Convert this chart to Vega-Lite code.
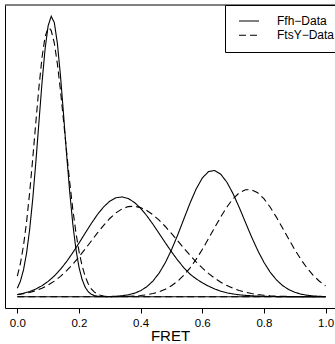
{
  "$schema": "https://vega.github.io/schema/vega-lite/v6.json",
  "width": 330,
  "height": 303,
  "autosize": {"type": "none"},
  "padding": {"left": 5, "top": 5, "right": 0, "bottom": 36},
  "background": "white",
  "config": {"view": {"stroke": null}, "font": "Liberation Sans"},
  "data": {"values": [
    {"c":"S1","s":"Ffh\u2212Data","x":0.00,"y":0.304},{"c":"S1","s":"Ffh\u2212Data","x":0.01,"y":0.555},{"c":"S1","s":"Ffh\u2212Data","x":0.02,"y":0.956},{"c":"S1","s":"Ffh\u2212Data","x":0.03,"y":1.557},{"c":"S1","s":"Ffh\u2212Data","x":0.04,"y":2.396},{"c":"S1","s":"Ffh\u2212Data","x":0.05,"y":3.483},{"c":"S1","s":"Ffh\u2212Data","x":0.06,"y":4.785},{"c":"S1","s":"Ffh\u2212Data","x":0.07,"y":6.210},{"c":"S1","s":"Ffh\u2212Data","x":0.08,"y":7.615},{"c":"S1","s":"Ffh\u2212Data","x":0.09,"y":8.825},{"c":"S1","s":"Ffh\u2212Data","x":0.10,"y":9.663},{"c":"S1","s":"Ffh\u2212Data","x":0.11,"y":9.997},{"c":"S1","s":"Ffh\u2212Data","x":0.12,"y":9.773},{"c":"S1","s":"Ffh\u2212Data","x":0.13,"y":9.027},{"c":"S1","s":"Ffh\u2212Data","x":0.14,"y":7.879},{"c":"S1","s":"Ffh\u2212Data","x":0.15,"y":6.498},{"c":"S1","s":"Ffh\u2212Data","x":0.16,"y":5.063},{"c":"S1","s":"Ffh\u2212Data","x":0.17,"y":3.728},{"c":"S1","s":"Ffh\u2212Data","x":0.18,"y":2.594},{"c":"S1","s":"Ffh\u2212Data","x":0.19,"y":1.705},{"c":"S1","s":"Ffh\u2212Data","x":0.20,"y":1.059},{"c":"S1","s":"Ffh\u2212Data","x":0.21,"y":0.622},{"c":"S1","s":"Ffh\u2212Data","x":0.22,"y":0.345},{"c":"S1","s":"Ffh\u2212Data","x":0.23,"y":0.181},{"c":"S1","s":"Ffh\u2212Data","x":0.24,"y":0.089},{"c":"S1","s":"Ffh\u2212Data","x":0.25,"y":0.042},{"c":"S1","s":"Ffh\u2212Data","x":0.26,"y":0.018},{"c":"S1","s":"Ffh\u2212Data","x":0.27,"y":0.008},{"c":"S1","s":"Ffh\u2212Data","x":0.28,"y":0.003},{"c":"S1","s":"Ffh\u2212Data","x":0.29,"y":0.001},{"c":"S1","s":"Ffh\u2212Data","x":0.30,"y":0},{"c":"S1","s":"Ffh\u2212Data","x":0.40,"y":0},{"c":"S1","s":"Ffh\u2212Data","x":0.60,"y":0},{"c":"S1","s":"Ffh\u2212Data","x":0.80,"y":0},{"c":"S1","s":"Ffh\u2212Data","x":1.00,"y":0},
    {"c":"D1","s":"FtsY\u2212Data","x":0.00,"y":0.735},{"c":"D1","s":"FtsY\u2212Data","x":0.01,"y":1.187},{"c":"D1","s":"FtsY\u2212Data","x":0.02,"y":1.825},{"c":"D1","s":"FtsY\u2212Data","x":0.03,"y":2.669},{"c":"D1","s":"FtsY\u2212Data","x":0.04,"y":3.716},{"c":"D1","s":"FtsY\u2212Data","x":0.05,"y":4.924},{"c":"D1","s":"FtsY\u2212Data","x":0.06,"y":6.210},{"c":"D1","s":"FtsY\u2212Data","x":0.07,"y":7.455},{"c":"D1","s":"FtsY\u2212Data","x":0.08,"y":8.519},{"c":"D1","s":"FtsY\u2212Data","x":0.09,"y":9.265},{"c":"D1","s":"FtsY\u2212Data","x":0.10,"y":9.590},{"c":"D1","s":"FtsY\u2212Data","x":0.102,"y":9.600},{"c":"D1","s":"FtsY\u2212Data","x":0.11,"y":9.487},{"c":"D1","s":"FtsY\u2212Data","x":0.12,"y":9.042},{"c":"D1","s":"FtsY\u2212Data","x":0.13,"y":8.304},{"c":"D1","s":"FtsY\u2212Data","x":0.14,"y":7.351},{"c":"D1","s":"FtsY\u2212Data","x":0.15,"y":6.270},{"c":"D1","s":"FtsY\u2212Data","x":0.16,"y":5.154},{"c":"D1","s":"FtsY\u2212Data","x":0.17,"y":4.083},{"c":"D1","s":"FtsY\u2212Data","x":0.18,"y":3.117},{"c":"D1","s":"FtsY\u2212Data","x":0.19,"y":2.293},{"c":"D1","s":"FtsY\u2212Data","x":0.20,"y":1.625},{"c":"D1","s":"FtsY\u2212Data","x":0.21,"y":1.110},{"c":"D1","s":"FtsY\u2212Data","x":0.22,"y":0.731},{"c":"D1","s":"FtsY\u2212Data","x":0.23,"y":0.464},{"c":"D1","s":"FtsY\u2212Data","x":0.24,"y":0.284},{"c":"D1","s":"FtsY\u2212Data","x":0.25,"y":0.167},{"c":"D1","s":"FtsY\u2212Data","x":0.26,"y":0.095},{"c":"D1","s":"FtsY\u2212Data","x":0.27,"y":0.052},{"c":"D1","s":"FtsY\u2212Data","x":0.28,"y":0.027},{"c":"D1","s":"FtsY\u2212Data","x":0.29,"y":0.014},{"c":"D1","s":"FtsY\u2212Data","x":0.30,"y":0.007},{"c":"D1","s":"FtsY\u2212Data","x":0.40,"y":0},{"c":"D1","s":"FtsY\u2212Data","x":0.60,"y":0},{"c":"D1","s":"FtsY\u2212Data","x":0.80,"y":0},{"c":"D1","s":"FtsY\u2212Data","x":1.00,"y":0},
    {"c":"S2","s":"Ffh\u2212Data","x":0.00,"y":0.080},{"c":"S2","s":"Ffh\u2212Data","x":0.02,"y":0.124},{"c":"S2","s":"Ffh\u2212Data","x":0.04,"y":0.188},{"c":"S2","s":"Ffh\u2212Data","x":0.06,"y":0.276},{"c":"S2","s":"Ffh\u2212Data","x":0.08,"y":0.394},{"c":"S2","s":"Ffh\u2212Data","x":0.10,"y":0.548},{"c":"S2","s":"Ffh\u2212Data","x":0.12,"y":0.743},{"c":"S2","s":"Ffh\u2212Data","x":0.14,"y":0.979},{"c":"S2","s":"Ffh\u2212Data","x":0.16,"y":1.257},{"c":"S2","s":"Ffh\u2212Data","x":0.18,"y":1.572},{"c":"S2","s":"Ffh\u2212Data","x":0.20,"y":1.913},{"c":"S2","s":"Ffh\u2212Data","x":0.22,"y":2.265},{"c":"S2","s":"Ffh\u2212Data","x":0.24,"y":2.612},{"c":"S2","s":"Ffh\u2212Data","x":0.26,"y":2.932},{"c":"S2","s":"Ffh\u2212Data","x":0.28,"y":3.204},{"c":"S2","s":"Ffh\u2212Data","x":0.30,"y":3.408},{"c":"S2","s":"Ffh\u2212Data","x":0.32,"y":3.529},{"c":"S2","s":"Ffh\u2212Data","x":0.34,"y":3.559},{"c":"S2","s":"Ffh\u2212Data","x":0.36,"y":3.500},{"c":"S2","s":"Ffh\u2212Data","x":0.38,"y":3.362},{"c":"S2","s":"Ffh\u2212Data","x":0.40,"y":3.154},{"c":"S2","s":"Ffh\u2212Data","x":0.42,"y":2.889},{"c":"S2","s":"Ffh\u2212Data","x":0.44,"y":2.585},{"c":"S2","s":"Ffh\u2212Data","x":0.46,"y":2.259},{"c":"S2","s":"Ffh\u2212Data","x":0.48,"y":1.927},{"c":"S2","s":"Ffh\u2212Data","x":0.50,"y":1.607},{"c":"S2","s":"Ffh\u2212Data","x":0.52,"y":1.308},{"c":"S2","s":"Ffh\u2212Data","x":0.54,"y":1.039},{"c":"S2","s":"Ffh\u2212Data","x":0.56,"y":0.810},{"c":"S2","s":"Ffh\u2212Data","x":0.58,"y":0.640},{"c":"S2","s":"Ffh\u2212Data","x":0.60,"y":0.500},{"c":"S2","s":"Ffh\u2212Data","x":0.62,"y":0.380},{"c":"S2","s":"Ffh\u2212Data","x":0.64,"y":0.280},{"c":"S2","s":"Ffh\u2212Data","x":0.66,"y":0.200},{"c":"S2","s":"Ffh\u2212Data","x":0.68,"y":0.140},{"c":"S2","s":"Ffh\u2212Data","x":0.70,"y":0.100},{"c":"S2","s":"Ffh\u2212Data","x":0.72,"y":0.070},{"c":"S2","s":"Ffh\u2212Data","x":0.74,"y":0.050},{"c":"S2","s":"Ffh\u2212Data","x":0.76,"y":0.035},{"c":"S2","s":"Ffh\u2212Data","x":0.78,"y":0.024},{"c":"S2","s":"Ffh\u2212Data","x":0.80,"y":0.016},{"c":"S2","s":"Ffh\u2212Data","x":0.82,"y":0.010},{"c":"S2","s":"Ffh\u2212Data","x":0.84,"y":0.007},{"c":"S2","s":"Ffh\u2212Data","x":0.86,"y":0.004},{"c":"S2","s":"Ffh\u2212Data","x":0.88,"y":0.002},{"c":"S2","s":"Ffh\u2212Data","x":0.90,"y":0.001},{"c":"S2","s":"Ffh\u2212Data","x":0.95,"y":0},{"c":"S2","s":"Ffh\u2212Data","x":1.00,"y":0},
    {"c":"D2","s":"FtsY\u2212Data","x":0.00,"y":0.071},{"c":"D2","s":"FtsY\u2212Data","x":0.02,"y":0.106},{"c":"D2","s":"FtsY\u2212Data","x":0.04,"y":0.154},{"c":"D2","s":"FtsY\u2212Data","x":0.06,"y":0.220},{"c":"D2","s":"FtsY\u2212Data","x":0.08,"y":0.306},{"c":"D2","s":"FtsY\u2212Data","x":0.10,"y":0.418},{"c":"D2","s":"FtsY\u2212Data","x":0.12,"y":0.558},{"c":"D2","s":"FtsY\u2212Data","x":0.14,"y":0.728},{"c":"D2","s":"FtsY\u2212Data","x":0.16,"y":0.930},{"c":"D2","s":"FtsY\u2212Data","x":0.18,"y":1.162},{"c":"D2","s":"FtsY\u2212Data","x":0.20,"y":1.421},{"c":"D2","s":"FtsY\u2212Data","x":0.22,"y":1.699},{"c":"D2","s":"FtsY\u2212Data","x":0.24,"y":1.988},{"c":"D2","s":"FtsY\u2212Data","x":0.26,"y":2.276},{"c":"D2","s":"FtsY\u2212Data","x":0.28,"y":2.548},{"c":"D2","s":"FtsY\u2212Data","x":0.30,"y":2.791},{"c":"D2","s":"FtsY\u2212Data","x":0.32,"y":2.990},{"c":"D2","s":"FtsY\u2212Data","x":0.34,"y":3.135},{"c":"D2","s":"FtsY\u2212Data","x":0.36,"y":3.215},{"c":"D2","s":"FtsY\u2212Data","x":0.38,"y":3.226},{"c":"D2","s":"FtsY\u2212Data","x":0.40,"y":3.178},{"c":"D2","s":"FtsY\u2212Data","x":0.42,"y":3.075},{"c":"D2","s":"FtsY\u2212Data","x":0.44,"y":2.923},{"c":"D2","s":"FtsY\u2212Data","x":0.46,"y":2.730},{"c":"D2","s":"FtsY\u2212Data","x":0.48,"y":2.505},{"c":"D2","s":"FtsY\u2212Data","x":0.50,"y":2.257},{"c":"D2","s":"FtsY\u2212Data","x":0.52,"y":1.998},{"c":"D2","s":"FtsY\u2212Data","x":0.54,"y":1.738},{"c":"D2","s":"FtsY\u2212Data","x":0.56,"y":1.485},{"c":"D2","s":"FtsY\u2212Data","x":0.58,"y":1.246},{"c":"D2","s":"FtsY\u2212Data","x":0.60,"y":1.028},{"c":"D2","s":"FtsY\u2212Data","x":0.62,"y":0.832},{"c":"D2","s":"FtsY\u2212Data","x":0.64,"y":0.662},{"c":"D2","s":"FtsY\u2212Data","x":0.66,"y":0.518},{"c":"D2","s":"FtsY\u2212Data","x":0.68,"y":0.398},{"c":"D2","s":"FtsY\u2212Data","x":0.70,"y":0.300},{"c":"D2","s":"FtsY\u2212Data","x":0.72,"y":0.222},{"c":"D2","s":"FtsY\u2212Data","x":0.74,"y":0.162},{"c":"D2","s":"FtsY\u2212Data","x":0.76,"y":0.116},{"c":"D2","s":"FtsY\u2212Data","x":0.78,"y":0.081},{"c":"D2","s":"FtsY\u2212Data","x":0.80,"y":0.056},{"c":"D2","s":"FtsY\u2212Data","x":0.82,"y":0.038},{"c":"D2","s":"FtsY\u2212Data","x":0.84,"y":0.025},{"c":"D2","s":"FtsY\u2212Data","x":0.86,"y":0.017},{"c":"D2","s":"FtsY\u2212Data","x":0.88,"y":0.011},{"c":"D2","s":"FtsY\u2212Data","x":0.90,"y":0.007},{"c":"D2","s":"FtsY\u2212Data","x":0.92,"y":0.004},{"c":"D2","s":"FtsY\u2212Data","x":0.94,"y":0.003},{"c":"D2","s":"FtsY\u2212Data","x":0.96,"y":0.002},{"c":"D2","s":"FtsY\u2212Data","x":0.98,"y":0.001},{"c":"D2","s":"FtsY\u2212Data","x":1.00,"y":0.001},
    {"c":"S3","s":"Ffh\u2212Data","x":0.00,"y":0},{"c":"S3","s":"Ffh\u2212Data","x":0.10,"y":0},{"c":"S3","s":"Ffh\u2212Data","x":0.20,"y":0},{"c":"S3","s":"Ffh\u2212Data","x":0.24,"y":0.001},{"c":"S3","s":"Ffh\u2212Data","x":0.26,"y":0.002},{"c":"S3","s":"Ffh\u2212Data","x":0.28,"y":0.004},{"c":"S3","s":"Ffh\u2212Data","x":0.30,"y":0.009},{"c":"S3","s":"Ffh\u2212Data","x":0.32,"y":0.019},{"c":"S3","s":"Ffh\u2212Data","x":0.34,"y":0.038},{"c":"S3","s":"Ffh\u2212Data","x":0.36,"y":0.070},{"c":"S3","s":"Ffh\u2212Data","x":0.38,"y":0.126},{"c":"S3","s":"Ffh\u2212Data","x":0.40,"y":0.217},{"c":"S3","s":"Ffh\u2212Data","x":0.42,"y":0.357},{"c":"S3","s":"Ffh\u2212Data","x":0.44,"y":0.561},{"c":"S3","s":"Ffh\u2212Data","x":0.46,"y":0.843},{"c":"S3","s":"Ffh\u2212Data","x":0.48,"y":1.212},{"c":"S3","s":"Ffh\u2212Data","x":0.50,"y":1.668},{"c":"S3","s":"Ffh\u2212Data","x":0.52,"y":2.195},{"c":"S3","s":"Ffh\u2212Data","x":0.54,"y":2.764},{"c":"S3","s":"Ffh\u2212Data","x":0.56,"y":3.330},{"c":"S3","s":"Ffh\u2212Data","x":0.58,"y":3.837},{"c":"S3","s":"Ffh\u2212Data","x":0.60,"y":4.230},{"c":"S3","s":"Ffh\u2212Data","x":0.62,"y":4.461},{"c":"S3","s":"Ffh\u2212Data","x":0.64,"y":4.502},{"c":"S3","s":"Ffh\u2212Data","x":0.66,"y":4.368},{"c":"S3","s":"Ffh\u2212Data","x":0.68,"y":4.082},{"c":"S3","s":"Ffh\u2212Data","x":0.70,"y":3.673},{"c":"S3","s":"Ffh\u2212Data","x":0.72,"y":3.183},{"c":"S3","s":"Ffh\u2212Data","x":0.74,"y":2.656},{"c":"S3","s":"Ffh\u2212Data","x":0.76,"y":2.134},{"c":"S3","s":"Ffh\u2212Data","x":0.78,"y":1.652},{"c":"S3","s":"Ffh\u2212Data","x":0.80,"y":1.231},{"c":"S3","s":"Ffh\u2212Data","x":0.82,"y":0.883},{"c":"S3","s":"Ffh\u2212Data","x":0.84,"y":0.610},{"c":"S3","s":"Ffh\u2212Data","x":0.86,"y":0.406},{"c":"S3","s":"Ffh\u2212Data","x":0.88,"y":0.260},{"c":"S3","s":"Ffh\u2212Data","x":0.90,"y":0.161},{"c":"S3","s":"Ffh\u2212Data","x":0.92,"y":0.095},{"c":"S3","s":"Ffh\u2212Data","x":0.94,"y":0.055},{"c":"S3","s":"Ffh\u2212Data","x":0.96,"y":0.030},{"c":"S3","s":"Ffh\u2212Data","x":0.98,"y":0.016},{"c":"S3","s":"Ffh\u2212Data","x":1.00,"y":0.008},
    {"c":"D3","s":"FtsY\u2212Data","x":0.00,"y":0},{"c":"D3","s":"FtsY\u2212Data","x":0.20,"y":0},{"c":"D3","s":"FtsY\u2212Data","x":0.30,"y":0.002},{"c":"D3","s":"FtsY\u2212Data","x":0.32,"y":0.004},{"c":"D3","s":"FtsY\u2212Data","x":0.34,"y":0.008},{"c":"D3","s":"FtsY\u2212Data","x":0.36,"y":0.015},{"c":"D3","s":"FtsY\u2212Data","x":0.38,"y":0.026},{"c":"D3","s":"FtsY\u2212Data","x":0.40,"y":0.044},{"c":"D3","s":"FtsY\u2212Data","x":0.42,"y":0.072},{"c":"D3","s":"FtsY\u2212Data","x":0.44,"y":0.115},{"c":"D3","s":"FtsY\u2212Data","x":0.46,"y":0.177},{"c":"D3","s":"FtsY\u2212Data","x":0.48,"y":0.267},{"c":"D3","s":"FtsY\u2212Data","x":0.50,"y":0.391},{"c":"D3","s":"FtsY\u2212Data","x":0.52,"y":0.555},{"c":"D3","s":"FtsY\u2212Data","x":0.54,"y":0.765},{"c":"D3","s":"FtsY\u2212Data","x":0.56,"y":1.024},{"c":"D3","s":"FtsY\u2212Data","x":0.58,"y":1.333},{"c":"D3","s":"FtsY\u2212Data","x":0.60,"y":1.684},{"c":"D3","s":"FtsY\u2212Data","x":0.62,"y":2.066},{"c":"D3","s":"FtsY\u2212Data","x":0.64,"y":2.462},{"c":"D3","s":"FtsY\u2212Data","x":0.66,"y":2.849},{"c":"D3","s":"FtsY\u2212Data","x":0.68,"y":3.202},{"c":"D3","s":"FtsY\u2212Data","x":0.70,"y":3.496},{"c":"D3","s":"FtsY\u2212Data","x":0.72,"y":3.706},{"c":"D3","s":"FtsY\u2212Data","x":0.74,"y":3.816},{"c":"D3","s":"FtsY\u2212Data","x":0.76,"y":3.816},{"c":"D3","s":"FtsY\u2212Data","x":0.78,"y":3.706},{"c":"D3","s":"FtsY\u2212Data","x":0.80,"y":3.496},{"c":"D3","s":"FtsY\u2212Data","x":0.82,"y":3.202},{"c":"D3","s":"FtsY\u2212Data","x":0.84,"y":2.849},{"c":"D3","s":"FtsY\u2212Data","x":0.86,"y":2.462},{"c":"D3","s":"FtsY\u2212Data","x":0.88,"y":2.066},{"c":"D3","s":"FtsY\u2212Data","x":0.90,"y":1.684},{"c":"D3","s":"FtsY\u2212Data","x":0.92,"y":1.333},{"c":"D3","s":"FtsY\u2212Data","x":0.94,"y":1.024},{"c":"D3","s":"FtsY\u2212Data","x":0.96,"y":0.765},{"c":"D3","s":"FtsY\u2212Data","x":0.98,"y":0.555},{"c":"D3","s":"FtsY\u2212Data","x":1.00,"y":0.391}
  ]},
  "layer": [
    {
      "mark": {"type": "line", "color": "black", "strokeWidth": 1.1},
      "encoding": {
        "x": {
          "field": "x", "type": "quantitative",
          "scale": {"domain": [-0.04, 1.0307], "nice": false, "zero": false},
          "axis": {
            "values": [0, 0.2, 0.4, 0.6, 0.8, 1.0], "format": ".1f", "title": "FRET",
            "grid": false, "domainColor": "black", "domainWidth": 1, "tickColor": "black", "tickSize": 5, "tickWidth": 1,
            "labelPadding": 4, "labelFontSize": 11.5, "labelColor": "black", "labelFont": "Liberation Sans", "labelFlush": false,
            "titleFontSize": 15, "titleFontWeight": "normal", "titleColor": "black", "titleFont": "Liberation Sans", "titlePadding": 0
          }
        },
        "y": {
          "field": "y", "type": "quantitative",
          "scale": {"domain": [-0.4, 10.4], "nice": false, "zero": false},
          "axis": {"title": null, "labels": false, "ticks": false, "grid": false, "domainColor": "black", "domainWidth": 1}
        },
        "detail": {"field": "c", "type": "nominal"},
        "strokeDash": {
          "field": "s", "type": "nominal",
          "scale": {"domain": ["Ffh\u2212Data", "FtsY\u2212Data"], "range": [[1, 0], [7, 4]]},
          "legend": {
            "orient": "none", "legendX": 220, "legendY": 0, "title": null,
            "symbolType": "M-2,0H2", "symbolStrokeColor": "black", "symbolStrokeWidth": 1.1, "symbolSize": 100,
            "symbolOffset": 8, "labelOffset": 22, "labelFontSize": 12, "labelFont": "Liberation Sans", "labelColor": "black",
            "labelLimit": 300, "fillColor": "white", "strokeColor": "black", "padding": 10, "rowPadding": 2.3
          }
        }
      }
    },
    {
      "data": {"values": [{}]},
      "mark": {"type": "rule", "color": "black", "strokeWidth": 1},
      "encoding": {"y": {"datum": 10.4}}
    }
  ]
}
